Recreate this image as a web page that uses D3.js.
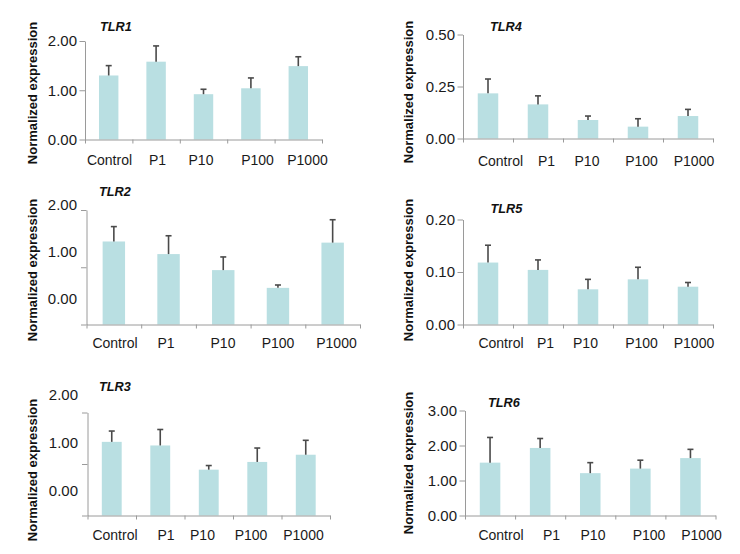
<!DOCTYPE html>
<html>
<head>
<meta charset="utf-8">
<script src="https://cdn.jsdelivr.net/npm/d3@7"></script>
<style>
  html, body { margin: 0; padding: 0; background: #fff; }
  svg { display: block; font-family: "Liberation Sans", Arial, sans-serif; }
</style>
</head>
<body>
<svg id="chart" width="740" height="554"></svg>
<script>
// ---------- data ----------
const categories = ["Control", "P1", "P10", "P100", "P1000"];

const tlr1Mean = [1.30, 1.58, 0.92, 1.04, 1.49];
const tlr1Err  = [0.20, 0.32, 0.10, 0.21, 0.19];
const tlr1Ticks = [0, 1, 2];

const tlr4Mean = [0.217, 0.164, 0.089, 0.057, 0.108];
const tlr4Err  = [0.069, 0.041, 0.019, 0.038, 0.032];
const tlr4Ticks = [0, 0.25, 0.5];

const tlr2Mean = [1.45, 1.23, 0.95, 0.64, 1.43];
const tlr2Err  = [0.26, 0.32, 0.23, 0.05, 0.40];
const tlr2Ticks = [0, 1, 2];

const tlr5Mean = [0.118, 0.104, 0.067, 0.086, 0.072];
const tlr5Err  = [0.033, 0.019, 0.019, 0.023, 0.008];
const tlr5Ticks = [0, 0.1, 0.2];

const tlr3Mean = [1.43, 1.36, 0.89, 1.04, 1.18];
const tlr3Err  = [0.21, 0.31, 0.08, 0.27, 0.28];
const tlr3Ticks = [0, 1, 2];

const tlr6Mean = [1.51, 1.93, 1.21, 1.34, 1.64];
const tlr6Err  = [0.72, 0.27, 0.30, 0.24, 0.25];
const tlr6Ticks = [0, 1, 2, 3];

const yTitle = "Normalized expression";

// ---------- layout (pixel positions) ----------
const panels = [
  { name: "TLR1", mean: tlr1Mean, err: tlr1Err, ticks: tlr1Ticks,
    x0: 85, x1: 322, yTop: 41, yBase: 139.5, titleX: 100, titleY: 27,
    yTitleX: 32, yTitleY: 93, catY: 160,
    catX: [109.5, 157.5, 201, 257.5, 307.5] },
  { name: "TLR4", mean: tlr4Mean, err: tlr4Err, ticks: tlr4Ticks,
    x0: 463, x1: 713, yTop: 34.5, yBase: 138.5, titleX: 490, titleY: 27,
    yTitleX: 408, yTitleY: 92, catY: 161,
    catX: [500.5, 546.5, 587, 641.5, 694] },
  { name: "TLR2", mean: tlr2Mean, err: tlr2Err, ticks: tlr2Ticks,
    x0: 86.5, x1: 360, yTop: 210, yBase: 324.5, titleX: 99, titleY: 192,
    yTitleX: 32, yTitleY: 270, catY: 343,
    catX: [115, 166, 223, 278, 336.5], labTop: 205, labBase: 298.5 },
  { name: "TLR5", mean: tlr5Mean, err: tlr5Err, ticks: tlr5Ticks,
    x0: 463, x1: 713, yTop: 219.5, yBase: 324.5, titleX: 490.5, titleY: 209,
    yTitleX: 408, yTitleY: 270, catY: 343,
    catX: [501, 545.5, 585.5, 641.5, 694] },
  { name: "TLR3", mean: tlr3Mean, err: tlr3Err, ticks: tlr3Ticks,
    x0: 87.5, x1: 330, yTop: 412.5, yBase: 515.5, titleX: 99, titleY: 387,
    yTitleX: 32, yTitleY: 470, catY: 535,
    catX: [115, 166, 202.5, 251, 303.5], labTop: 395, labBase: 491 },
  { name: "TLR6", mean: tlr6Mean, err: tlr6Err, ticks: tlr6Ticks,
    x0: 465, x1: 715.5, yTop: 410.5, yBase: 515.5, titleX: 488, titleY: 403,
    yTitleX: 408, yTitleY: 463, catY: 535,
    catX: [501, 551.5, 593, 649, 701.5] }
];

const barColor = "#b9dfe2";
const axisColor = "#9a9a9a";
const errColor = "#4a4a4a";
const textColor = "#1a1a1a";
const tickFont = 15;
const catFont = 14;

const svg = d3.select("#chart");

panels.forEach(p => {
  const g = svg.append("g");
  const tmax = d3.max(p.ticks);
  const y = d3.scaleLinear().domain([0, tmax]).range([p.yBase, p.yTop]);
  const x = d3.scaleBand().domain(categories).range([p.x0, p.x1]).padding(0);
  const xb = d3.scaleLinear().domain([0, categories.length]).range([p.x0, p.x1]);
  const bw = x.bandwidth() * 0.41;

  // bars
  g.selectAll("rect.bar").data(categories).join("rect")
    .attr("class", "bar")
    .attr("x", (d) => x(d) + x.bandwidth() / 2 - bw / 2)
    .attr("width", bw)
    .attr("y", (d, i) => y(p.mean[i]))
    .attr("height", (d, i) => y(0) - y(p.mean[i]))
    .attr("fill", barColor);

  // error bars (upper only)
  const eg = g.append("g").attr("stroke", errColor).attr("stroke-width", 1.6).attr("fill", "none");
  categories.forEach((c, i) => {
    const cx = x(c) + x.bandwidth() / 2;
    const yt = y(p.mean[i] + p.err[i]);
    eg.append("line").attr("x1", cx).attr("x2", cx).attr("y1", y(p.mean[i])).attr("y2", yt);
    eg.append("line").attr("x1", cx - 3).attr("x2", cx + 3).attr("y1", yt).attr("y2", yt);
  });

  // y axis
  const shifted = p.labTop !== undefined;
  const yAxis = d3.axisLeft(y).tickValues(p.ticks).tickSize(5.5).tickSizeOuter(0).tickPadding(2.5)
    .tickFormat(shifted ? () => "" : d3.format(".2f"));
  const ya = g.append("g").attr("transform", `translate(${p.x0},0)`).call(yAxis);
  ya.attr("font-family", null).attr("font-size", null);
  ya.select(".domain").attr("stroke", axisColor);
  ya.selectAll(".tick line").attr("stroke", axisColor);
  ya.selectAll("text").attr("font-size", tickFont).attr("fill", textColor);

  if (shifted) {
    const yl = d3.scaleLinear().domain([0, tmax]).range([p.labBase, p.labTop]);
    g.selectAll("text.ylab").data(p.ticks).join("text")
      .attr("class", "ylab")
      .attr("x", p.x0 - 9.5)
      .attr("y", d => yl(d))
      .attr("dy", "0.35em")
      .attr("text-anchor", "end")
      .attr("font-size", tickFont)
      .attr("fill", textColor)
      .text(d3.format(".2f"));
  }

  // x axis: boundary ticks
  const xAxis = d3.axisBottom(xb).tickValues(d3.range(categories.length + 1)).tickSize(4).tickSizeOuter(0).tickFormat(() => "");
  const xa = g.append("g").attr("transform", `translate(0,${p.yBase})`).call(xAxis);
  xa.select(".domain").attr("stroke", axisColor);
  xa.selectAll(".tick line").attr("stroke", axisColor);

  // category labels
  g.selectAll("text.cat").data(categories).join("text")
    .attr("class", "cat")
    .attr("x", (d, i) => p.catX[i])
    .attr("y", p.catY)
    .attr("dy", "0.35em")
    .attr("text-anchor", "middle")
    .attr("font-size", catFont)
    .attr("fill", textColor)
    .text(d => d);

  // panel title
  g.append("text")
    .attr("x", p.titleX)
    .attr("y", p.titleY)
    .attr("dy", "0.35em")
    .attr("font-size", 12.7)
    .attr("font-weight", "bold")
    .attr("font-style", "italic")
    .attr("fill", "#111")
    .text(p.name);

  // y title
  g.append("text")
    .attr("transform", `translate(${p.yTitleX},${p.yTitleY}) rotate(-90)`)
    .attr("dy", "0.35em")
    .attr("text-anchor", "middle")
    .attr("font-size", 13)
    .attr("font-weight", "bold")
    .attr("fill", "#111")
    .text(yTitle);
});
</script>
</body>
</html>
